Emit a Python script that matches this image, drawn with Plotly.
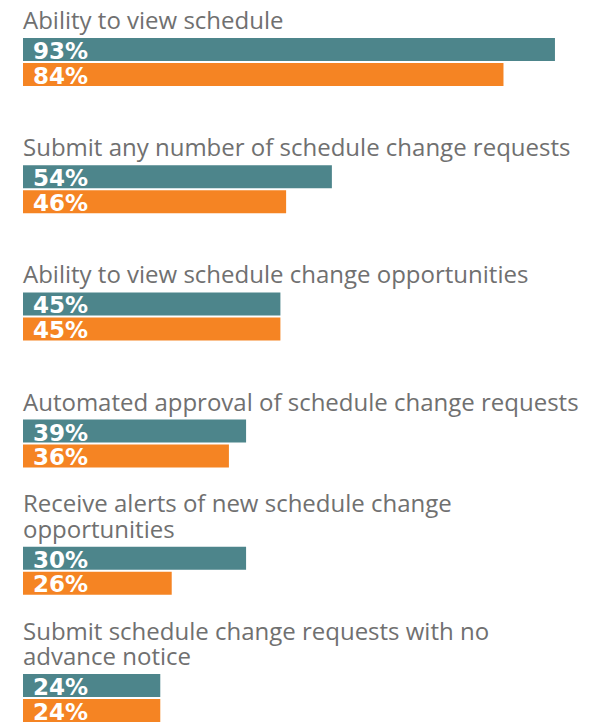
import plotly.graph_objects as go

categories = [
    "Ability to view schedule",
    "Submit any number of schedule change requests",
    "Ability to view schedule change opportunities",
    "Automated approval of schedule change requests",
    "Receive alerts of new schedule change<br>opportunities",
    "Submit schedule change requests with no<br>advance notice",
]
teal_values = [93, 54, 45, 39, 39, 24]
orange_values = [84, 46, 45, 36, 26, 24]
teal_labels = ["93%", "54%", "45%", "39%", "30%", "24%"]
orange_labels = ["84%", "46%", "45%", "36%", "26%", "24%"]

TEAL = "#4d858b"
ORANGE = "#f58423"
GRAY = "#707070"

ids = list(range(len(categories)))

fig = go.Figure()
fig.add_trace(go.Bar(y=ids, x=teal_values, orientation="h", marker_color=TEAL,
                     marker_line_width=0, hoverinfo="skip", name="teal"))
fig.add_trace(go.Bar(y=ids, x=orange_values, orientation="h", marker_color=ORANGE,
                     marker_line_width=0, hoverinfo="skip", name="orange"))

LINE_STEP = 25.5
annotations = []
for i, cat in enumerate(categories):
    lines = cat.split("<br>")
    n = len(lines)
    for j, line in enumerate(lines):
        annotations.append(dict(
            x=0, xref="paper", y=i, yref="y", text=line, showarrow=False,
            xanchor="left", yanchor="bottom", align="left",
            yshift=24 + (n - 1 - j) * LINE_STEP, xshift=-2,
            font=dict(family="Open Sans", size=24, color=GRAY),
        ))
    annotations.append(dict(
        x=0, xref="paper", y=i, yref="y", text=teal_labels[i], showarrow=False,
        xanchor="left", yanchor="middle", yshift=11, xshift=8,
        font=dict(family="DejaVu Sans", size=23, color="white", weight="bold"),
    ))
    annotations.append(dict(
        x=0, xref="paper", y=i, yref="y", text=orange_labels[i], showarrow=False,
        xanchor="left", yanchor="middle", yshift=-13.5, xshift=8,
        font=dict(family="DejaVu Sans", size=23, color="white", weight="bold"),
    ))

fig.update_layout(
    width=594, height=722,
    margin=dict(l=23, r=0, t=0, b=0, pad=0, autoexpand=False),
    paper_bgcolor="white", plot_bgcolor="white",
    barmode="group", bargap=0.607, bargroupgap=0.08,
    showlegend=False,
    xaxis=dict(range=[0, 571 / 5.72], visible=False, fixedrange=True),
    yaxis=dict(range=[5.1887, -0.4874], visible=False, fixedrange=True),
    annotations=annotations,
)

fig.write_html("out.html", config={"displayModeBar": False},
               post_script="document.body.style.margin='0';")
